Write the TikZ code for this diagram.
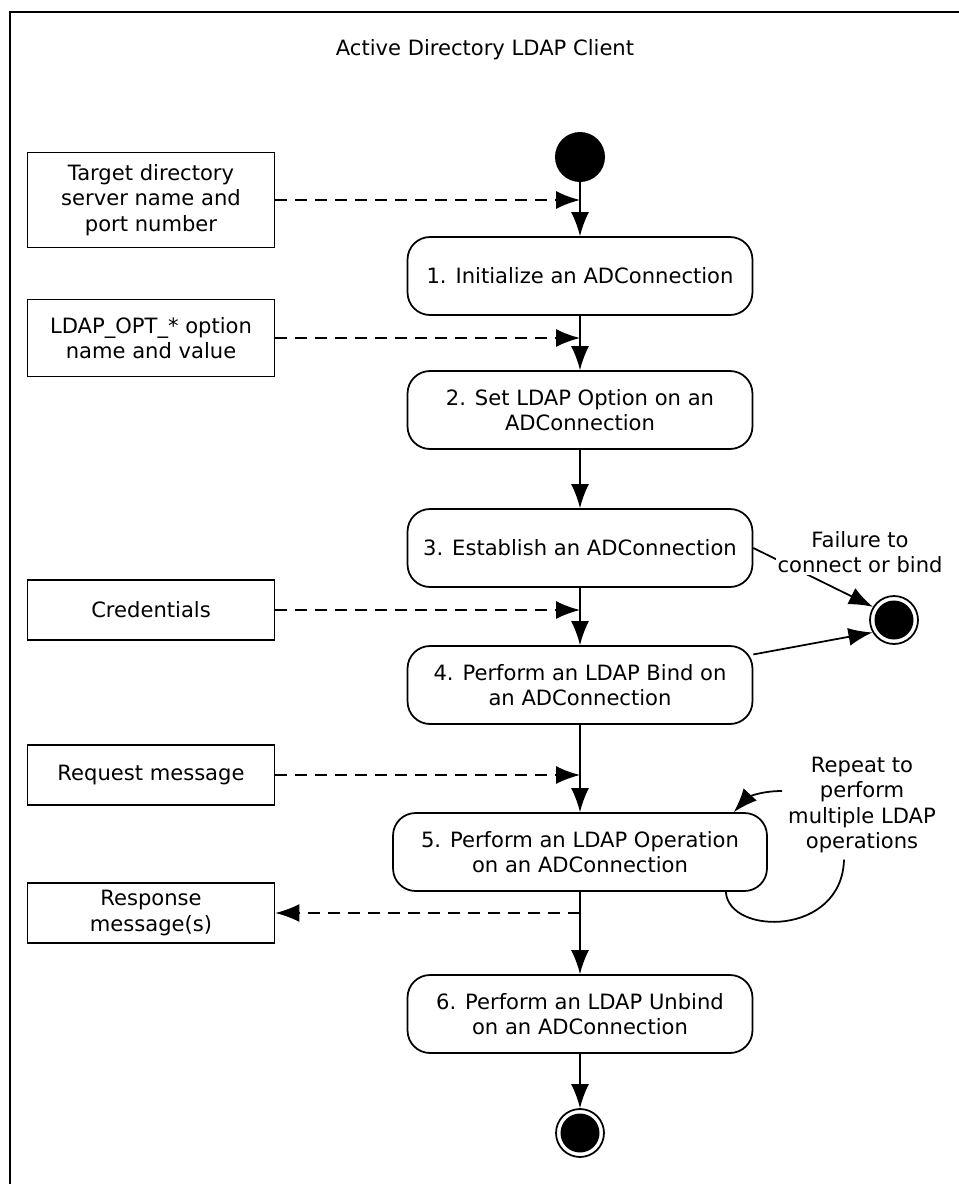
\documentclass[tikz,border=0pt]{standalone}
\usepackage{fontspec}
\setmainfont{DejaVu Sans}
\usetikzlibrary{%
  arrows.meta,%
  positioning%
}
\tikzset{>={Latex[length=4.8mm,width=3.6mm]}}
\tikzset{
  action/.style={draw,line width=1pt,rounded corners=4.5mm,align=center,
    minimum width=6.9cm,minimum height=1.56cm},
  input/.style={draw,line width=1pt,align=center,minimum width=4.94cm},
  initial/.style={circle,fill,minimum size=1cm,inner sep=0pt},
  final/.style={circle,draw,line width=1pt,minimum size=0.96cm,inner sep=0pt,
    path picture={\fill (path picture bounding box.center) circle (0.39cm);}},
  flow/.style={->,line width=1pt},
  data/.style={->,line width=1pt,dash pattern=on 2.4mm off 1.6mm}
}

\begin{document}
\begin{tikzpicture}[x=0.02cm,y=-0.02cm,font=\fontsize{12pt}{14.6pt}\selectfont]
        \useasboundingbox (0,0) rectangle (959,1184);
        \draw[line width=1.2pt] (10,1184) -- (10,12) -- (959,12);
        \node (title) at (485,50) {Active Directory LDAP Client};

        % main flow
        \node[initial] (start) at (580,157) {};
        \node[action] (init) at (580,276) {1. Initialize an ADConnection};
        \node[action] (setopt) at (580,410) {2. Set LDAP Option on an\\ADConnection};
        \node[action] (connect) at (580,548) {3. Establish an ADConnection};
        \node[action] (bind) at (580,685) {4. Perform an LDAP Bind on\\an ADConnection};
        \node[action,minimum width=7.48cm] (operate) at (580,852)
        {5. Perform an LDAP Operation\\on an ADConnection};
        \node[action] (unbind) at (580,1014) {6. Perform an LDAP Unbind\\on an ADConnection};
        \node[final] (done) at (580,1133) {};
        \node[final] (fail) at (894,620) {};

        % inputs and outputs
        \node[input,minimum height=1.9cm] (target) at (151,200)
        {Target directory\\server name and\\port number};
        \node[input,minimum height=1.54cm] (option) at (151,338)
        {LDAP\_OPT\_* option\\name and value};
        \node[input,minimum height=1.2cm] (cred) at (151,610) {Credentials};
        \node[input,minimum height=1.2cm] (request) at (151,775) {Request message};
        \node[input,minimum height=1.2cm] (response) at (151,913) {Response\\message(s)};
        \node[align=center] (repeat) at (862,805) {Repeat to\\perform\\multiple LDAP\\operations};

        \draw[flow] (start) -- (init);
        \draw[flow] (init) -- (setopt);
        \draw[flow] (setopt) -- (connect);
        \draw[flow] (connect) -- (bind);
        \draw[flow] (bind) -- (operate);
        \draw[flow] (operate) -- (unbind);
        \draw[flow] (unbind) -- (done);
        \draw[data] (target.east) -- (target.east -| start.south);
        \draw[data] (option.east) -- (option.east -| init.south);
        \draw[data] (cred.east) -- (cred.east -| connect.south);
        \draw[data] (request.east) -- (request.east -| bind.south);
        \draw[data] (response.east -| operate.south) -- (response.east);

        % failure exits
        \draw[flow] (connect.east) -- (fail.148);
        \draw[flow] (bind.10) -- (fail.210);
        \node[fill=white,inner sep=1pt,align=center] (failtext) at (860,552)
        {Failure to\\connect or bind};

        % loop back on step 5
        \draw[line width=1pt] ([xshift=-0.84cm]operate.south east)
        .. controls +(0.06cm,-0.88cm) and +(-0.04cm,-1.54cm) .. ([xshift=-0.36cm]repeat.south);
        \draw[flow] ([yshift=0.28cm]repeat.west)
        .. controls +(-0.5cm,0) and +(0.24cm,0.26cm) .. ([xshift=-0.68cm]operate.north east);
      \end{tikzpicture}
\end{document}
